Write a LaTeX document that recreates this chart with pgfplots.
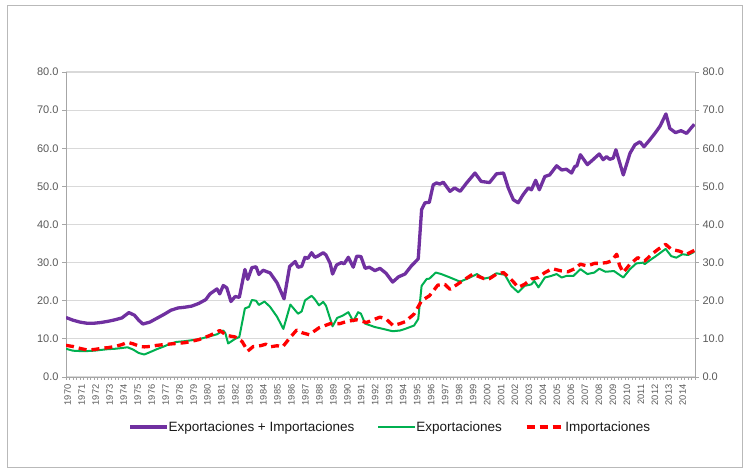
\documentclass[border=0pt]{standalone}
\usepackage{fontspec}
\setmainfont{Liberation Sans}
\usepackage{pgfplots}
\pgfplotsset{compat=1.18}
\definecolor{purp}{HTML}{7030A0}
\definecolor{grn}{HTML}{00B050}
\definecolor{rd}{HTML}{FF0000}
\definecolor{gridc}{HTML}{D9D9D9}
\definecolor{axc}{HTML}{A6A6A6}
\definecolor{lbl}{HTML}{595959}

\pgfplotsset{
  common/.style={
    at={(66pt,91pt)}, anchor=south west,
    scale only axis, width=629pt, height=305pt,
    xmin=1970, xmax=2015, ymin=0, ymax=80,
    ytick={0,10,...,80},
    axis line style={axc, line width=0.8pt},
    tick style={axc, line width=0.8pt},
    tick align=outside,
    major tick length=4pt,
    yticklabel style={font=\fontsize{11}{11}\selectfont, text=lbl,
      /pgf/number format/.cd, fixed, fixed zerofill, precision=1,
      assume math mode=true},
  }
}

\begin{document}
\begin{tikzpicture}
\useasboundingbox (0,0) rectangle (743pt,468pt);
\draw[gray!55, line width=1pt] (7pt,1pt) rectangle (742pt,462pt);

\begin{axis}[
  common,
  axis y line*=left, axis x line*=bottom,
  ymajorgrids, grid style={gridc, line width=1.2pt},
  xtick={1970.125,1971.125,...,2014.2},
  xticklabels={1970,1971,1972,1973,1974,1975,1976,1977,1978,1979,
    1980,1981,1982,1983,1984,1985,1986,1987,1988,1989,
    1990,1991,1992,1993,1994,1995,1996,1997,1998,1999,
    2000,2001,2002,2003,2004,2005,2006,2007,2008,2009,
    2010,2011,2012,2013,2014},
  major x tick style={draw=none},
  minor xtick={1970,1970.25,...,2015.1},
  minor tick length=3pt,
  xticklabel style={rotate=90, anchor=east, text=lbl,
    font=\fontsize{9.3}{9.3}\selectfont},
  legend columns=3,
  legend style={at={(0.5155,-0.164)}, anchor=center, draw=none, fill=none,
    font=\fontsize{13.5}{14}\selectfont, text=black!90,
    /tikz/every even column/.append style={column sep=21pt},
    /tikz/every odd column/.append style={column sep=-2pt}},
  legend image code/.code={\draw[#1] (0pt,0pt) -- (37pt,0pt);},
  line join=round,
]

\addplot[purp, line width=3.3pt, mark=none] coordinates {
(1970.0,15.6) (1970.5,14.9) (1971.0,14.4) (1971.5,14.1) (1972.0,14.1)
(1972.5,14.3) (1973.0,14.6) (1973.5,15.0) (1974.0,15.5) (1974.5,16.9)
(1974.9,16.2) (1975.2,14.9) (1975.5,13.9) (1976.0,14.4) (1976.5,15.4)
(1977.0,16.4) (1977.5,17.5) (1978.0,18.1) (1978.5,18.3) (1979.0,18.6)
(1979.5,19.3) (1980.0,20.3) (1980.3,21.8) (1980.8,23.1) (1981.0,21.8)
(1981.25,24.0) (1981.5,23.4) (1981.8,19.8) (1982.1,21.1) (1982.4,20.9)
(1982.8,28.2) (1983.0,25.6) (1983.3,28.7) (1983.6,28.9) (1983.8,26.9)
(1984.1,28.0) (1984.6,27.3) (1985.1,24.7) (1985.6,20.5) (1986.0,29.0)
(1986.4,30.3) (1986.6,28.8) (1986.86,29.0) (1987.1,31.4) (1987.3,31.1)
(1987.57,32.6) (1987.8,31.4) (1988.0,31.7) (1988.4,32.6) (1988.6,32.0)
(1988.9,29.8) (1989.07,27.0) (1989.36,29.4) (1989.7,30.0) (1989.9,29.7)
(1990.2,31.4) (1990.55,28.8) (1990.8,31.7) (1991.1,31.6) (1991.4,28.5)
(1991.7,28.8) (1992.1,27.9) (1992.46,28.5) (1992.9,27.2) (1993.37,24.9)
(1993.8,26.3) (1994.25,27.0) (1994.7,29.1) (1995.2,31.0) (1995.44,43.9)
(1995.68,45.7) (1995.99,45.8) (1996.27,50.4) (1996.5,50.9) (1996.75,50.6)
(1996.99,51.1) (1997.47,48.7) (1997.8,49.6) (1998.2,48.7) (1998.66,50.9)
(1999.26,53.5) (1999.7,51.3) (2000.3,51.0) (2000.8,53.3) (2001.3,53.5)
(2001.64,49.6) (2002.0,46.5) (2002.35,45.7) (2002.7,47.8) (2003.07,49.6)
(2003.3,49.1) (2003.6,51.6) (2003.86,49.1) (2004.26,52.6) (2004.6,53.0)
(2005.1,55.4) (2005.46,54.3) (2005.8,54.5) (2006.17,53.5) (2006.4,55.2)
(2006.55,55.4) (2006.8,58.3) (2007.3,55.7) (2007.7,57.0) (2008.15,58.5)
(2008.43,57.0) (2008.67,57.8) (2008.9,57.1) (2009.15,57.4) (2009.34,59.6)
(2009.87,53.0) (2010.35,58.7) (2010.7,60.9) (2011.06,61.7) (2011.35,60.4)
(2011.72,62.0) (2012.13,63.9) (2012.5,65.8) (2012.92,69.0) (2013.2,65.2)
(2013.6,64.1) (2014.0,64.6) (2014.4,63.9) (2014.95,66.3)
};
\addlegendentry{Exportaciones + Importaciones}

\addplot[grn, line width=2pt, mark=none] coordinates {
(1970.0,7.4) (1970.5,6.9) (1971.0,6.8) (1971.5,6.8) (1972.0,6.9)
(1972.5,7.1) (1973.0,7.3) (1973.5,7.4) (1974.0,7.6) (1974.4,7.8)
(1974.8,7.2) (1975.2,6.3) (1975.6,5.9) (1976.0,6.5) (1976.5,7.3)
(1977.0,8.0) (1977.5,8.8) (1977.9,9.2) (1978.5,9.4) (1978.9,9.6)
(1979.5,9.9) (1980.2,10.6) (1980.8,11.2) (1981.25,12.2) (1981.4,11.5)
(1981.6,8.8) (1982.1,10.0) (1982.4,10.5) (1982.8,18.0) (1983.1,18.4)
(1983.3,20.2) (1983.6,20.0) (1983.8,18.9) (1984.2,19.8) (1984.6,18.4)
(1985.1,15.8) (1985.55,12.6) (1986.05,19.0) (1986.6,16.6) (1986.86,17.2)
(1987.1,20.1) (1987.57,21.3) (1987.8,20.4) (1988.1,18.8) (1988.4,19.7)
(1988.6,18.7) (1989.07,13.3) (1989.4,15.5) (1989.8,16.1) (1990.2,17.0)
(1990.55,14.6) (1990.9,17.0) (1991.1,16.6) (1991.4,14.0) (1992.1,13.1)
(1992.7,12.6) (1993.37,12.0) (1993.9,12.2) (1994.25,12.6) (1994.9,13.5)
(1995.2,15.2) (1995.44,23.9) (1995.8,25.7) (1996.0,25.8) (1996.45,27.4)
(1996.85,27.0) (1997.47,26.1) (1998.2,25.0) (1998.9,26.1) (1999.4,27.0)
(1999.9,25.8) (2000.3,26.1) (2000.8,27.2) (2001.4,26.8) (2001.85,23.9)
(2002.35,22.2) (2002.8,23.9) (2003.3,24.3) (2003.5,25.2) (2003.8,23.5)
(2004.26,26.1) (2004.7,26.5) (2005.1,27.0) (2005.46,26.1) (2005.8,26.5)
(2006.3,26.5) (2006.8,28.3) (2007.3,27.0) (2007.8,27.4) (2008.15,28.4)
(2008.6,27.6) (2009.2,27.8) (2009.87,26.1) (2010.35,28.3) (2010.8,29.8)
(2011.3,30.0) (2011.4,29.6) (2011.8,30.7) (2012.2,31.7) (2012.9,33.6)
(2013.3,31.7) (2013.66,31.3) (2014.1,32.2) (2014.5,32.0) (2014.95,32.8)
};
\addlegendentry{Exportaciones}

\addplot[rd, line width=3.3pt, dash pattern=on 8pt off 5pt, mark=none] coordinates {
(1970.0,8.3) (1970.5,8.0) (1971.0,7.5) (1971.5,7.1) (1972.0,7.2)
(1972.5,7.5) (1973.0,7.7) (1973.5,8.0) (1974.0,8.5) (1974.4,9.1)
(1974.8,8.7) (1975.3,8.0) (1975.6,7.9) (1976.0,8.0) (1976.5,8.3)
(1977.0,8.5) (1977.9,8.8) (1978.5,9.0) (1978.9,9.3) (1979.5,9.8)
(1980.3,10.9) (1980.8,11.8) (1981.0,12.2) (1981.5,10.9) (1982.1,10.5)
(1982.6,9.3) (1983.0,6.8) (1983.4,8.0) (1983.9,8.2) (1984.3,8.6)
(1984.6,7.9) (1985.1,8.2) (1985.5,7.9) (1986.0,10.2) (1986.5,12.3)
(1986.9,11.6) (1987.4,11.1) (1988.1,12.9) (1988.9,14.0) (1989.6,14.0)
(1990.1,14.6) (1990.8,15.0) (1991.5,14.3) (1992.46,15.7) (1992.9,15.2)
(1993.4,13.5) (1993.9,14.0) (1994.25,14.5) (1994.9,16.5) (1995.44,20.0)
(1996.0,21.3) (1996.6,24.1) (1997.1,24.3) (1997.47,23.0) (1998.2,24.8)
(1999.1,27.0) (1999.9,25.8) (2000.3,25.8) (2000.8,27.0) (2001.3,27.4)
(2001.7,26.1) (2002.0,25.0) (2002.35,23.5) (2002.8,24.3) (2003.3,25.7)
(2003.8,26.1) (2004.26,27.4) (2004.8,28.4) (2005.46,27.8) (2005.9,27.6)
(2006.4,28.4) (2006.8,29.6) (2007.3,29.1) (2007.8,29.8) (2008.15,29.8)
(2008.67,30.0) (2009.0,30.4) (2009.4,32.2) (2009.6,29.3) (2009.87,27.4)
(2010.35,29.6) (2010.9,31.3) (2011.4,30.4) (2011.9,32.2) (2012.4,33.6)
(2012.9,34.8) (2013.3,33.5) (2013.9,33.0) (2014.4,32.2) (2014.95,33.2)
};
\addlegendentry{Importaciones}
\end{axis}

\begin{axis}[
  common,
  axis y line*=right, hide x axis,
]
\end{axis}
\end{tikzpicture}
\end{document}
